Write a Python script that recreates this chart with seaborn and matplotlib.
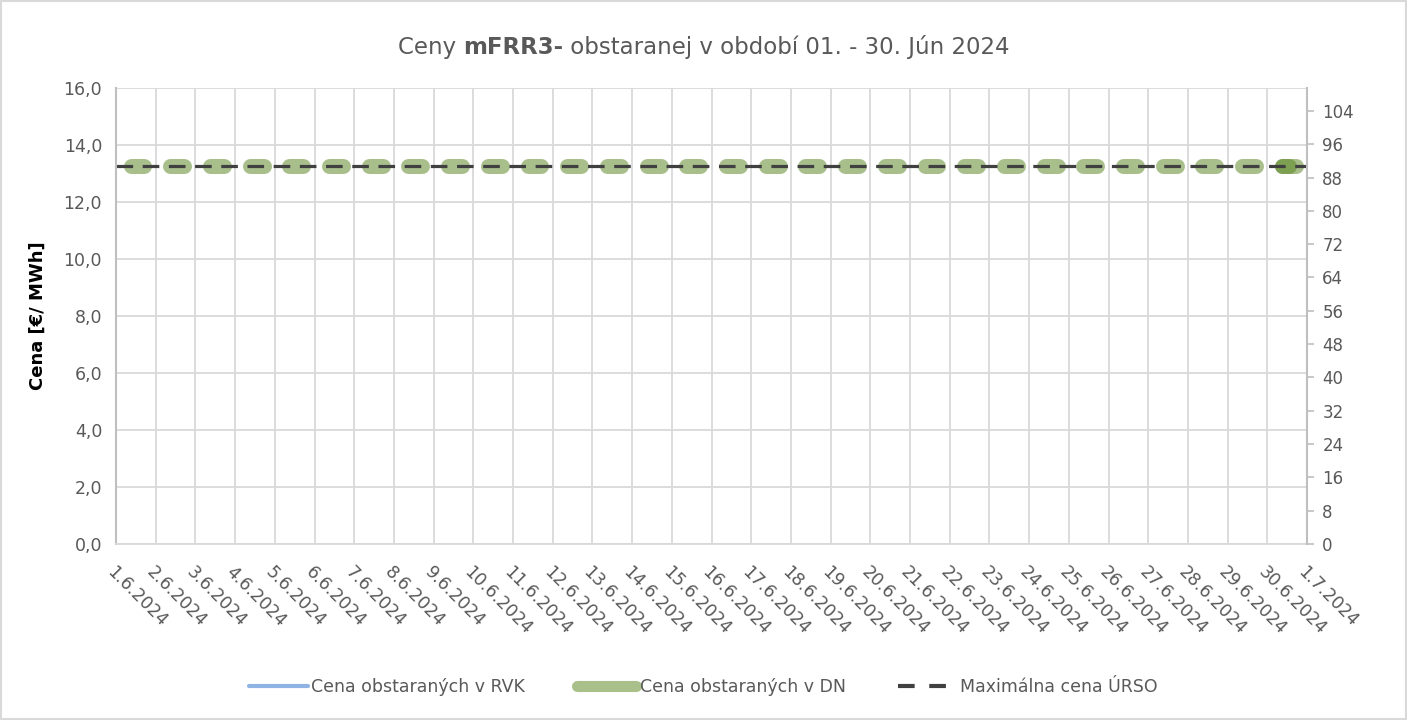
import matplotlib
matplotlib.use("Agg")
import matplotlib.pyplot as plt
from matplotlib.lines import Line2D
from matplotlib.offsetbox import AnnotationBbox, HPacker, TextArea
import numpy as np
import pandas as pd
import seaborn as sns

# --- data ---
day_labels = [f"{d}.6.2024" for d in range(1, 31)] + ["1.7.2024"]
dn_price = [13.27] * 30             # Cena obstaraných v DN, one block per day
dn_hours = (8.8, 17.2)              # hours of day covered by the DN block
dn_extra_day = 29                   # second (overlapping) DN block on 30.6.
dn_extra_hours = (9, 13)
urso_max = [13.27] * 31             # Maximálna cena ÚRSO
rvk_price = []                      # Cena obstaraných v RVK (no values)

left_ticks = np.arange(0, 17, 2)
right_ticks = np.arange(0, 105, 8)

GRID = "#d9d9d9"
TXT = "#595959"

sns.set_theme(style="white")
plt.rcParams["font.family"] = ["DejaVu Sans"]

rows = []
for i, p in enumerate(dn_price):
    for h in dn_hours:
        rows.append({"x": i + h / 24, "y": p, "block": i})
for h in dn_extra_hours:
    rows.append({"x": dn_extra_day + h / 24, "y": dn_price[dn_extra_day], "block": 100})
dn_df = pd.DataFrame(rows)
urso_df = pd.DataFrame({"x": np.arange(len(urso_max)), "y": urso_max})

fig = plt.figure(figsize=(14.07, 7.2), dpi=100)
ax = fig.add_axes([116 / 1407, 1 - 544 / 720, (1307 - 116) / 1407, (544 - 88) / 720])

sns.lineplot(data=dn_df, x="x", y="y", units="block", estimator=None, ax=ax,
             color="#53811a", alpha=0.5, linewidth=10.8, solid_capstyle="round")
sns.lineplot(data=urso_df, x="x", y="y", ax=ax, color="#404040", linewidth=2.3,
             dashes=False, linestyle=(0, (5.2, 3.0)))

ax.set_xlim(0, 30)
ax.set_ylim(0, 16)
ax.set_xticks(np.arange(len(day_labels)))
ax.set_xticklabels(day_labels, rotation=-45, ha="left", va="top",
                   rotation_mode="anchor", color=TXT, fontsize=12.5)
ax.set_yticks(left_ticks)
ax.set_yticklabels([f"{v:.1f}".replace(".", ",") for v in left_ticks], color=TXT, fontsize=12.5)
ax.tick_params(axis="x", length=0, pad=14)
ax.tick_params(axis="y", length=0, pad=10)
ax.grid(True, color=GRID, linewidth=1.3)
ax.set_axisbelow(True)
for s in ax.spines.values():
    s.set_visible(False)
ax.spines["left"].set_visible(True)
ax.spines["left"].set_color("#bfbfbf")
ax.spines["left"].set_linewidth(1.5)
ax.spines["bottom"].set_visible(True)
ax.spines["bottom"].set_color(GRID)
ax.spines["bottom"].set_linewidth(1.3)
ax.set_xlabel("")
ax.set_ylabel("Cena [€/ MWh]", fontsize=13, fontweight="bold", color="black", labelpad=12)

ax2 = ax.twinx()
ax2.set_ylim(0, 109.5)
ax2.set_yticks(right_ticks)
ax2.set_yticklabels([str(v) for v in right_ticks], color=TXT, fontsize=12)
ax2.tick_params(axis="y", length=5, width=1.2, color="#bfbfbf", direction="out", pad=6)
for s in ax2.spines.values():
    s.set_visible(False)
ax2.spines["right"].set_visible(True)
ax2.spines["right"].set_color("#bfbfbf")
ax2.spines["right"].set_linewidth(1.5)
ax2.grid(False)

# title with a bold middle part
title_style = dict(fontsize=16.5, color=TXT)
parts = [
    TextArea("Ceny ", textprops=title_style),
    TextArea("mFRR3-", textprops=dict(fontweight="bold", **title_style)),
    TextArea(" obstaranej v období 01. - 30. Jún 2024", textprops=title_style),
]
title_box = HPacker(children=parts, align="baseline", pad=0, sep=0)
fig.add_artist(AnnotationBbox(title_box, (0.5, 1 - 47 / 720), xycoords="figure fraction",
                              frameon=False, box_alignment=(0.5, 0.5)))

handles = [
    Line2D([], [], color="#8fb4e3", linewidth=3),
    Line2D([], [], color="#a9c08a", linewidth=8, solid_capstyle="round"),
    Line2D([], [], color="#404040", linewidth=3, linestyle=(0, (4.0, 3.5))),
]
labels = ["Cena obstaraných v RVK", "Cena obstaraných v DN", "Maximálna cena ÚRSO"]
fig.legend(handles, labels, loc="center", bbox_to_anchor=(0.5, 1 - 687 / 720), ncol=3,
           frameon=False, fontsize=12.5, handlelength=3.4, handletextpad=0.2,
           columnspacing=3.0, labelcolor=TXT)

fig.patches.append(plt.Rectangle((0.001, 0.001), 0.998, 0.998, transform=fig.transFigure,
                                 fill=False, edgecolor=GRID, linewidth=1.5))

fig.savefig("out.png", dpi=100)
